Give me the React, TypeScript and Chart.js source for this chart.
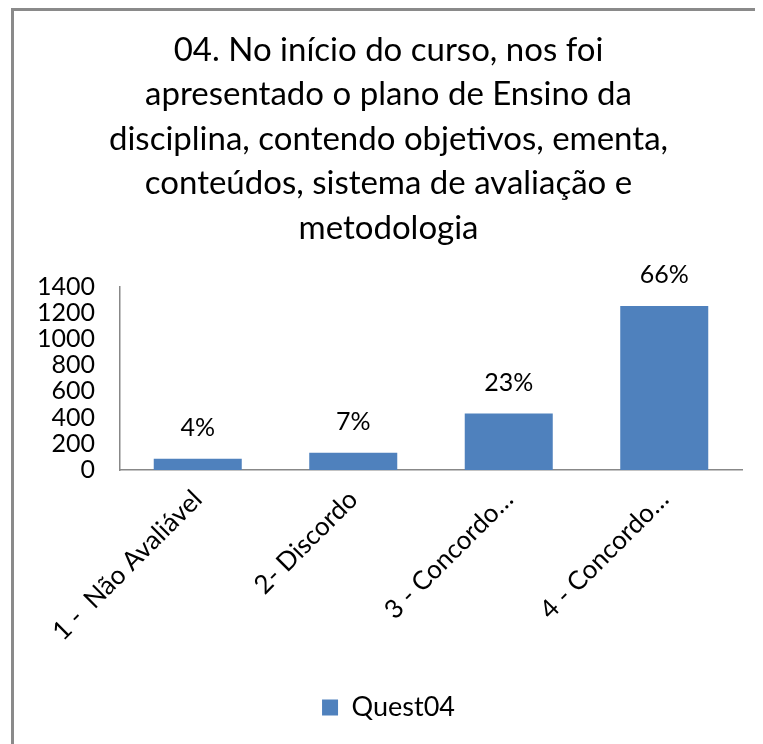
import React, { useEffect, useRef } from "react";
import { Chart, registerables } from "chart.js";

Chart.register(...registerables);

const titleLines = [
  "04. No início do curso, nos foi",
  "apresentado o plano de Ensino da",
  "disciplina, contendo objetivos, ementa,",
  "conteúdos, sistema de avaliação e",
  "metodologia",
];
const categories = ["1 -  Não Avaliável", "2- Discordo", "3 - Concordo…", "4 - Concordo…"];
const seriesName = "Quest04";
const values = [85, 132, 431, 1251];
const yMin = 0;
const yMax = 1400;
const yStep = 200;

const FONT = "Lato, 'Open Sans', sans-serif";

const pctLabels = {
  id: "pctLabels",
  afterDatasetsDraw(chart: any) {
    const ctx = chart.ctx;
    const meta = chart.getDatasetMeta(0);
    const data = chart.data.datasets[0].data as number[];
    const total = data.reduce((a, b) => a + b, 0);
    ctx.save();
    ctx.font = `25px ${FONT}`;
    ctx.fillStyle = "#000";
    ctx.textAlign = "center";
    ctx.textBaseline = "alphabetic";
    meta.data.forEach((bar: any, i: number) => {
      const pct = Math.round((data[i] / total) * 100);
      ctx.fillText(pct + "%", bar.x, bar.y - 23);
    });
    ctx.restore();
  },
};

export default function App() {
  const ref = useRef<HTMLCanvasElement>(null);
  useEffect(() => {
    if (!ref.current) return;
    const chart = new Chart(ref.current, {
      type: "bar",
      data: {
        labels: categories,
        datasets: [
          {
            label: seriesName,
            data: values,
            backgroundColor: "#4F81BD",
            borderWidth: 0,
            barPercentage: 0.566,
            categoryPercentage: 1,
          },
        ],
      },
      options: {
        responsive: false,
        animation: false,
        devicePixelRatio: 1,
        layout: { padding: { left: 21, right: 21, top: 0, bottom: 13 } },
        plugins: {
          title: {
            display: true,
            text: titleLines,
            color: "#000",
            font: { family: FONT, size: 33, weight: "normal", lineHeight: "44.5px" as any },
            padding: { top: 17, bottom: 36 },
          },
          legend: {
            display: true,
            position: "bottom",
            labels: {
              color: "#000",
              boxWidth: 16,
              boxHeight: 16,
              font: { family: FONT, size: 27 },
              padding: 10,
            },
          },
          tooltip: { enabled: false },
        },
        scales: {
          x: {
            grid: { display: false, drawTicks: false },
            border: { display: true, color: "#888", width: 1.5 },
            ticks: {
              color: "#000",
              font: { family: FONT, size: 26 },
              minRotation: 45,
              maxRotation: 45,
              autoSkip: false,
              padding: 14,
            },
            afterFit: (scale: any) => {
              scale.height = 214;
            },
          },
          y: {
            min: yMin,
            max: yMax,
            grid: { display: false, drawTicks: false },
            border: { display: true, color: "#888", width: 1.5 },
            ticks: {
              stepSize: yStep,
              autoSkip: false,
              color: "#000",
              font: { family: FONT, size: 25, lineHeight: 1 },
              padding: 25,
              callback: (v: any) => String(v),
            },
            afterFit: (scale: any) => {
              scale.width = 85;
            },
          },
        },
      },
      plugins: [pctLabels],
    });
    return () => chart.destroy();
  }, []);

  return (
    <div
      style={{
        marginLeft: 3,
        width: 749,
        height: 733,
        borderTop: "3px solid #8a8a8a",
        borderLeft: "3px solid #8a8a8a",
        background: "#fff",
      }}
    >
      <canvas ref={ref} width={749} height={733} style={{ display: "block", width: 749, height: 733 }} />
    </div>
  );
}
